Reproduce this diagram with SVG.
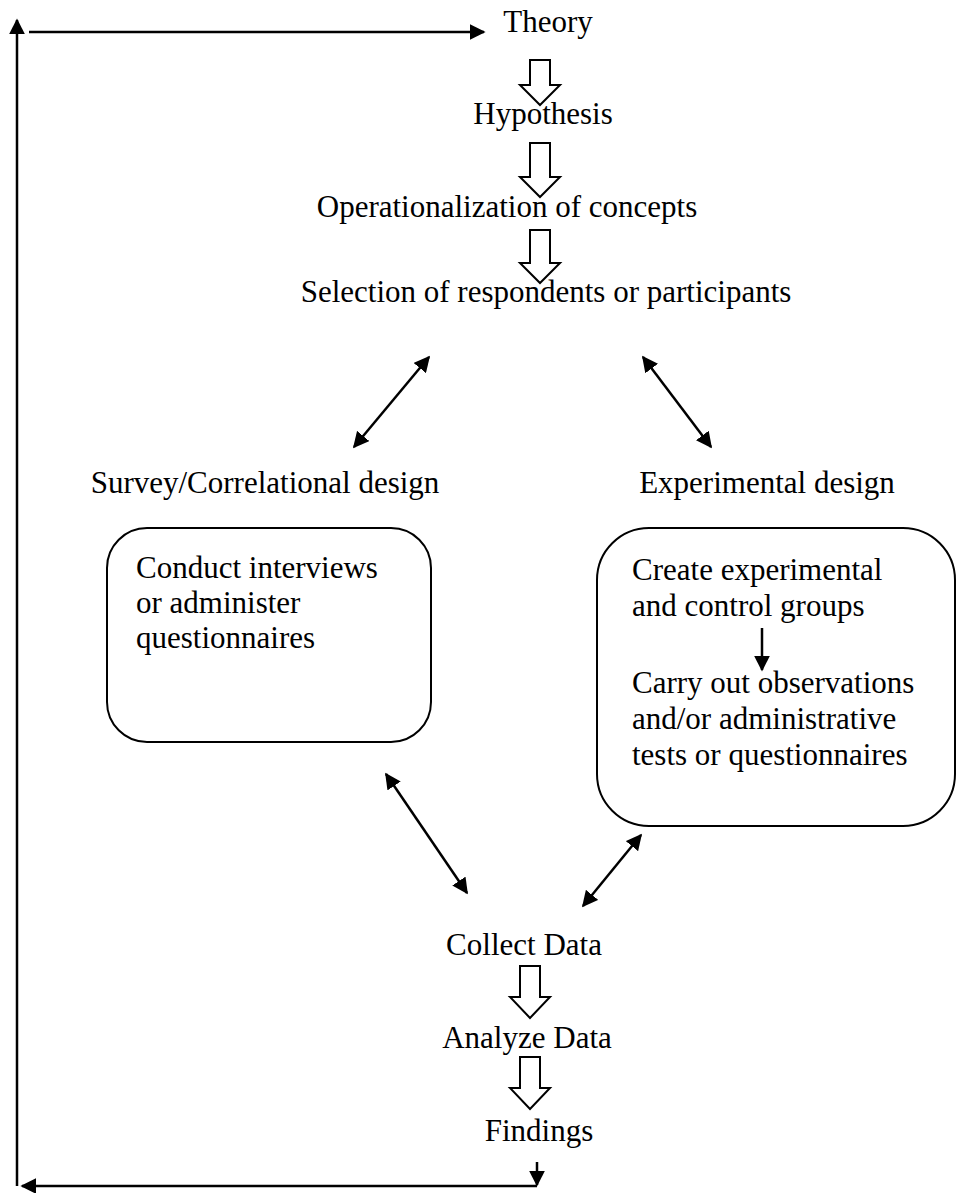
<svg xmlns="http://www.w3.org/2000/svg" width="957" height="1193" viewBox="0 0 957 1193">
<style>
text{font-family:"Liberation Serif","Times New Roman",serif;font-size:31px;fill:#000}
.ln{stroke:#000;stroke-width:2.5;fill:none}
.blk{stroke:#000;stroke-width:2;fill:#fff}
.box{stroke:#000;stroke-width:2;fill:none}
</style>
<defs>
<marker id="ah" viewBox="0 0 10 10" refX="9" refY="5" markerWidth="6.4" markerHeight="6.4" markerUnits="strokeWidth" orient="auto-start-reverse">
<path d="M0,0 L10,5 L0,10 z" fill="#000"/>
</marker>
</defs>
<g id="theory"><text x="548" y="32" text-anchor="middle">Theory</text></g>
<g id="hypothesis"><text x="543" y="124" text-anchor="middle">Hypothesis</text></g>
<g id="operationalization"><text x="507" y="217" text-anchor="middle">Operationalization of concepts</text></g>
<g id="selection"><text x="546" y="302" text-anchor="middle">Selection of respondents or participants</text></g>
<g id="survey"><text x="265" y="493" text-anchor="middle">Survey/Correlational design</text></g>
<g id="experimental"><text x="767" y="493" text-anchor="middle">Experimental design</text></g>
<g id="survey-box">
<rect class="box" x="107" y="528" width="324" height="214" rx="40" ry="40"/>
<text x="136" y="578">Conduct interviews</text>
<text x="136" y="613">or administer</text>
<text x="136" y="648">questionnaires</text>
</g>
<g id="experimental-box">
<rect class="box" x="597" y="528" width="358" height="298" rx="52" ry="52"/>
<text x="632" y="580">Create experimental</text>
<text x="632" y="616">and control groups</text>
<text x="632" y="693">Carry out observations</text>
<text x="632" y="729">and/or administrative</text>
<text x="632" y="765">tests or questionnaires</text>
</g>
<g id="collect"><text x="524" y="955" text-anchor="middle">Collect Data</text></g>
<g id="analyze"><text x="527" y="1048" text-anchor="middle">Analyze Data</text></g>
<g id="findings"><text x="539" y="1141" text-anchor="middle">Findings</text></g>
<g id="connectors">
<line class="ln" x1="17" y1="1186" x2="17" y2="20" marker-end="url(#ah)"/>
<line class="ln" x1="29" y1="32" x2="484" y2="32" marker-end="url(#ah)"/>
<path class="blk" d="M530,60 H550 V85 H560 L540,105 L520,85 H530 Z"/>
<path class="blk" d="M530,143 H550 V177 H560 L540,197 L520,177 H530 Z"/>
<path class="blk" d="M530,230 H550 V263 H560 L540,283 L520,263 H530 Z"/>
<line class="ln" x1="354" y1="447" x2="429" y2="357" marker-start="url(#ah)" marker-end="url(#ah)"/>
<line class="ln" x1="711" y1="447" x2="643" y2="357" marker-start="url(#ah)" marker-end="url(#ah)"/>
<line class="ln" x1="762" y1="628" x2="762" y2="670" marker-end="url(#ah)"/>
<line class="ln" x1="386" y1="774" x2="467" y2="893" marker-start="url(#ah)" marker-end="url(#ah)"/>
<line class="ln" x1="641" y1="835" x2="583" y2="906" marker-start="url(#ah)" marker-end="url(#ah)"/>
<path class="blk" d="M520,966 H540 V997 H550 L530,1018 L510,997 H520 Z"/>
<path class="blk" d="M520,1057 H540 V1088 H550 L530,1109 L510,1088 H520 Z"/>
<line class="ln" x1="537" y1="1162" x2="537" y2="1185" marker-end="url(#ah)"/>
<line class="ln" x1="537" y1="1186" x2="22" y2="1186" marker-end="url(#ah)"/>
</g>
</svg>
